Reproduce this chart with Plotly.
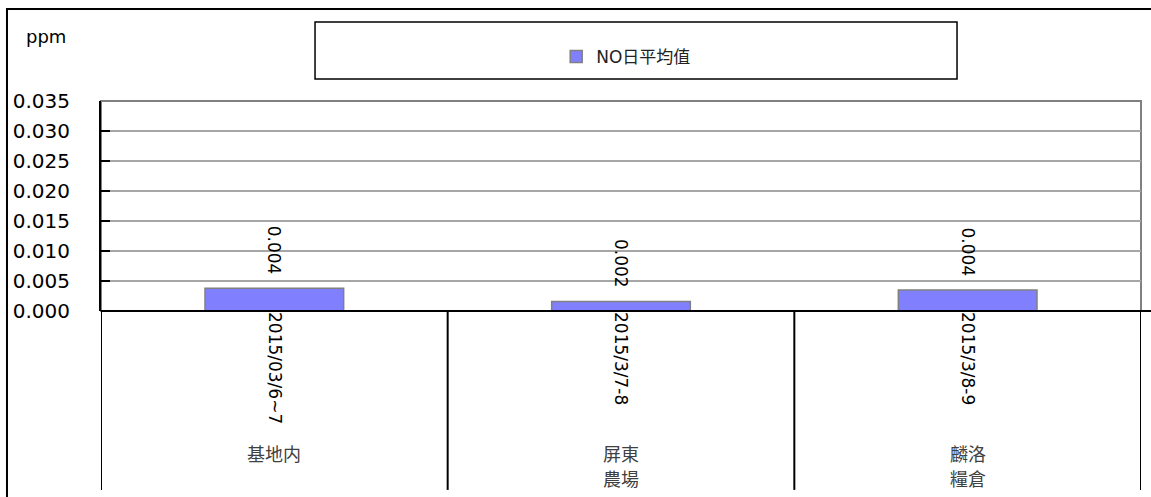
import plotly.graph_objects as go

# ---- data ----
dates = ["2015/03/6~7", "2015/3/7-8", "2015/3/8-9"]
site_lines = [["基地内"], ["屏東", "農場"], ["麟洛", "糧倉"]]
no_daily_avg = [0.0038, 0.0016, 0.0035]
series_name = "NO日平均值"
y_ticks = [0.000, 0.005, 0.010, 0.015, 0.020, 0.025, 0.030, 0.035]

LAT = "DejaVu Sans, Verdana, sans-serif"
CJK = "Noto Sans CJK TC, Noto Sans CJK JP, sans-serif"

fig = go.Figure()
fig.add_trace(go.Bar(
    x=dates, y=no_daily_avg, name=series_name,
    marker=dict(color="#8080ff", line=dict(color="#808080", width=1.5)),
    texttemplate="%{y:.3f}\u00a0\u00a0", textposition="outside", textangle=90,
    textfont=dict(family=LAT, size=17, color="black"),
    constraintext="none", cliponaxis=False,
))

# plot-area border (gray top/right)
fig.add_shape(type="rect", xref="paper", yref="paper", x0=0, x1=1, y0=0, y1=1,
              line=dict(color="#808080", width=2), layer="below")
# outer chart frame
fig.add_shape(type="rect", xref="paper", yref="paper", x0=-0.0904, x1=1.2, y0=-1.3, y1=1.438,
              line=dict(color="black", width=2))
# legend box
fig.add_shape(type="rect", xref="paper", yref="paper", x0=0.2058, x1=0.8231, y0=1.105, y1=1.376,
              line=dict(color="black", width=1.5))
# category dividers below the axis
for i in range(len(dates) + 1):
    fig.add_shape(type="line", xref="x", yref="paper", x0=i - 0.5, x1=i - 0.5, y0=0, y1=-0.852,
                  line=dict(color="black", width=2))
# x axis line extended to right edge
fig.add_shape(type="line", xref="paper", yref="paper", x0=0, x1=1.02, y0=0, y1=0,
              line=dict(color="black", width=2))

# site labels (one annotation per line, 25 px apart)
for d, lines in zip(dates, site_lines):
    for j, line in enumerate(lines):
        fig.add_annotation(x=d, xref="x", y=-0.676, yref="paper", yshift=-25 * j,
                           xanchor="center", yanchor="middle",
                           text=line, showarrow=False,
                           font=dict(family=CJK, size=18, color="#404040"))

fig.add_annotation(x=-0.053, y=1.305, xref="paper", yref="paper", xanchor="center",
                   yanchor="middle", text="ppm", showarrow=False,
                   font=dict(family=LAT, size=18, color="black"))

fig.update_layout(
    width=1151, height=497,
    margin=dict(l=101, r=10, t=101, b=186),
    paper_bgcolor="white", plot_bgcolor="white",
    bargap=0.6,
    showlegend=True,
    legend=dict(x=0.505, y=1.2095, xanchor="center", yanchor="middle",
                font=dict(family=LAT + ", " + CJK, size=17, color="#222"),
                bgcolor="rgba(0,0,0,0)", itemwidth=30),
    xaxis=dict(type="category", tickangle=90, showline=False, ticks="",
               tickfont=dict(family=LAT, size=17, color="black"), showgrid=False,
               range=[-0.5, 2.5]),
    yaxis=dict(range=[0, 0.035], tickvals=y_ticks, tickformat=".3f",
               showline=True, linecolor="black", linewidth=2,
               ticks="inside", ticklen=9, tickwidth=2, tickcolor="black",
               showgrid=True, gridcolor="#a6a6a6", gridwidth=1.5, zeroline=False,
               ticklabelstandoff=25,
               tickfont=dict(family=LAT, size=20, color="black")),
)

fig.write_html("out.html", config={"displayModeBar": False},
               post_script="document.body.style.margin='0px';")
